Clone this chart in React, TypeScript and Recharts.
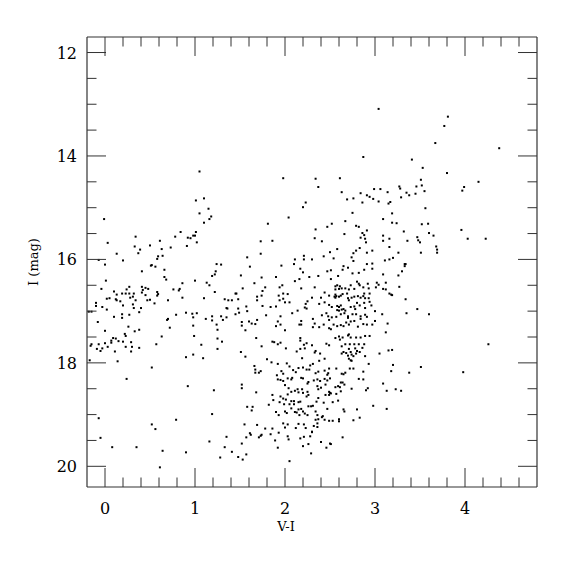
import React from 'react';
import { ScatterChart, Scatter, XAxis, YAxis } from 'recharts';

// ---- data: [V-I, I mag] ----
const brightRedStars: number[][] = [
  [1.05,14.30],[3.04,13.09],[2.87,14.02],[1.98,14.43],[2.34,14.44],[2.61,14.43],[2.37,14.60],[2.99,14.64],[3.06,14.64],
  [3.81,13.24],[3.77,13.42],[3.67,13.75],[4.38,13.85],[3.41,14.07],[3.53,14.23],[3.80,14.33],[3.51,14.46],[4.15,14.50],
  [3.27,14.59],[3.28,14.63],[3.46,14.59],[3.52,14.57],[3.99,14.60],
  [3.97,14.67],[3.14,14.70],[3.35,14.71],[3.38,14.76],[3.45,14.73],[3.55,14.68],[3.29,14.80],[3.17,14.89],[3.56,15.01],
  [3.19,15.11],[3.09,15.22],[3.19,15.29],[3.24,15.30],[3.52,15.32],[3.59,15.31],[3.96,15.43],[3.32,15.46],[3.60,15.49],
  [3.65,15.54],[4.03,15.60],[4.23,15.60],[3.09,15.54],[3.09,15.64],[3.16,15.60],[3.36,15.64],[3.47,15.57],[3.48,15.63],
  [3.50,15.67],[3.68,15.75],[3.69,15.81],[3.69,15.87],[3.16,15.76],[3.26,15.87],[3.51,15.87],[3.20,15.97],[3.16,16.00],
  [3.11,16.02],[3.33,16.09],[3.34,16.09],[3.33,16.13],[3.30,16.23],[3.09,16.29],[3.26,16.31],[3.12,16.45],[3.27,16.53],
  [3.09,16.57],[3.16,16.66],[3.18,16.68],[3.19,16.69],[3.34,16.77],[3.47,16.96],[3.35,17.04],[3.60,17.06],[3.08,17.06],
  [3.14,17.24],[3.12,17.41],
  [4.26,17.64],[3.05,17.82],[3.15,17.76],[3.19,17.75],[3.20,18.04],[3.18,18.16],[3.38,18.19],[3.51,18.08],[3.98,18.18],
  [3.09,18.40],[3.13,18.54],[3.23,18.51],[3.29,18.54],[3.13,18.89],
];

const blueStars: number[][] = [
  [1.01,14.86],[1.10,14.82],[1.15,15.02],[1.05,15.11],[1.18,15.17],[1.16,15.22],[1.10,15.29],[-0.01,15.22],[0.34,15.56],
  [0.03,15.68],[0.33,15.75],[0.39,15.81],[0.13,15.89],[0.37,15.88],[0.20,16.02],[0.50,15.73],[0.61,15.64],[0.63,15.80],
  [0.59,15.94],[0.58,15.99],[0.64,15.93],[0.73,15.77],[0.78,15.56],[0.84,15.47],[0.91,15.74],[0.92,15.58],[0.95,15.59],
  [0.98,15.54],[1.00,15.54],[1.01,15.47],[1.02,15.67],[-0.07,16.01],[0.00,16.10],[0.51,16.12],[0.52,16.11],[0.56,16.14],
  [0.41,16.23],[0.66,16.20],[0.66,16.34],[0.68,16.39],[0.01,16.41],[-0.04,16.57],[0.10,16.62],[0.05,16.75],[0.02,16.76],
  [0.13,16.68],[0.19,16.66],[0.23,16.66],[0.27,16.53],[0.24,16.58],[0.27,16.66],[0.12,16.77],[0.13,16.79],[0.17,16.81],
  [0.20,16.89],[0.19,17.06],[0.19,17.13],[0.31,16.72],[0.28,16.74],[0.32,16.66],[0.34,16.79],[0.31,16.87],[0.32,16.94],
  [0.40,16.94],[0.27,17.07],[0.38,17.02],[0.41,16.53],[0.42,16.59],[0.45,16.55],[0.48,16.57],[0.41,16.64],[0.45,16.69],
  [0.47,16.79],[0.50,16.78],[0.55,16.85],[0.58,16.63],[0.59,16.67],[0.58,16.70],[0.70,16.79],[0.76,16.58],[0.83,16.57],
  [0.82,16.60],[0.86,16.46],[0.86,16.74],[1.00,16.41],[1.10,16.75],[1.13,16.45],[1.16,16.50],[1.22,16.63],[1.19,16.32],
  [1.22,16.29],[1.23,16.23],[1.24,16.09],[1.29,16.10],[1.33,16.77],[1.37,16.79],[1.41,16.79],[1.46,16.66],[1.48,16.77],
  [1.36,16.95],[1.35,16.94],[1.48,16.95],[1.45,17.06],[-0.18,17.01],[-0.15,17.01],[-0.10,16.84],[-0.10,16.90],[-0.08,17.21],
  [-0.03,16.92],[0.02,16.97],[0.10,17.11],[0.00,17.38],[0.09,17.52],[0.12,17.53],[0.22,17.44],[0.23,17.48],[0.26,17.30],
  [0.33,17.39],[0.38,17.36],[0.63,17.49],[0.69,17.17],[0.70,17.15],[0.72,17.32],[0.79,17.07],[0.90,17.03],[0.97,17.05],
  [0.98,17.12],[0.98,17.28],[0.99,17.48],[1.02,17.04],[1.12,17.15],[1.19,17.10],[1.19,17.18],[1.24,17.26],[1.25,17.36],
  [1.29,17.10],[1.31,17.17],[1.35,17.12],[1.25,17.53],
  [1.30,17.59],[1.25,17.73],[1.09,17.91],[1.07,17.65],[0.98,17.84],[0.90,17.89],[0.57,17.64],[0.52,18.09],[-0.16,17.67],
  [-0.15,17.64],[-0.09,17.73],[-0.07,17.64],[-0.05,17.77],[-0.03,17.72],[0.00,17.62],[0.03,17.69],[0.07,17.57],[0.07,17.61],
  [0.11,17.78],[0.15,17.58],[0.20,17.59],[0.23,17.69],[0.29,17.78],[0.29,17.60],[0.30,17.69],[0.38,17.71],[-0.17,17.95],
  [0.14,17.97],[0.24,18.31],[0.92,18.45],[1.21,18.53],[-0.07,19.07],[0.79,19.10],[1.19,18.99],[0.52,19.19],[0.56,19.28],
  [-0.05,19.45],[0.08,19.63],[0.35,19.63],[0.64,19.70],[0.90,19.73],[0.61,20.02],[1.16,19.52],[1.35,19.43],[1.33,19.63],
  [1.41,19.72],[1.28,19.83],[1.48,19.82],
];

const redGiantStars: number[][] = [
  [2.63,14.70],[2.84,14.72],[2.91,14.76],[2.94,14.79],[2.98,14.83],[2.69,14.84],[2.76,14.82],[2.86,14.90],[3.04,14.88],
  [3.15,14.92],[2.23,14.90],[2.20,14.99],[2.75,15.10],[2.04,15.19],[2.67,15.26],[1.81,15.31],[2.52,15.31],[2.47,15.37],
  [2.79,15.35],[2.82,15.37],[2.34,15.42],[2.91,15.44],[2.86,15.49],[2.88,15.53],[2.84,15.58],[2.66,15.51],[2.89,15.60],
  [2.90,15.67],[2.33,15.59],[2.41,15.65],[1.86,15.64],[1.73,15.65],[2.83,15.78],[2.79,15.83],[2.76,15.88],[2.74,15.96],
  [2.76,16.03],[2.91,15.87],[2.97,15.83],[2.58,15.80],[2.50,15.86],[1.73,15.89],[2.21,15.93],[2.21,16.00],[2.11,16.00],
  [2.30,16.00],[2.43,15.94],[2.54,15.98],[1.58,15.96],[2.91,16.09],[2.97,16.08],[2.10,16.09],[1.96,16.12],[2.65,16.13],
  [2.70,16.16],[2.64,16.20],[1.61,16.14],[2.17,16.18],[2.20,16.25],[2.51,16.21],[2.47,16.23],[2.88,16.20],[2.97,16.18],
  [2.75,16.27],[2.82,16.26],[1.51,16.31],[2.37,16.32],[2.59,16.32],[1.74,16.35],[1.90,16.34],[2.27,16.34],[2.16,16.38],
  [2.11,16.42],[2.51,16.38],[2.80,16.43],[2.82,16.47],[2.92,16.47],[3.02,16.45],[1.66,16.46],[1.97,16.50],[1.94,16.54],
  [2.33,16.54],[2.56,16.52],[2.58,16.50],[2.61,16.52],[2.56,16.58],[2.60,16.57],[2.63,16.56],[2.67,16.56],[2.71,16.58],
  [2.73,16.50],[2.77,16.57],[2.83,16.50],[2.87,16.54],[2.93,16.56],[3.01,16.54],[3.04,16.49],[3.12,16.58],[1.78,16.54],
  [1.75,16.61],[1.53,16.56],[2.18,16.56],[1.98,16.66],[2.03,16.67],[1.93,16.70],[1.45,16.66],[1.74,16.70],[2.44,16.64],
  [2.49,16.70],[2.40,16.74],[2.30,16.74],[2.56,16.68],[2.57,16.71],[2.55,16.72],[2.56,16.74],[2.60,16.72],[2.62,16.70],
  [2.64,16.67],[2.69,16.66],[2.70,16.75],[2.71,16.79],[2.74,16.74],[2.77,16.72],[2.81,16.71],[2.84,16.74],[2.87,16.71],
  [2.89,16.75],[2.93,16.75],[2.88,16.66],[2.94,16.66],[1.69,16.72],[1.69,16.79],[1.75,16.90],[1.94,16.79],[1.98,16.76],
  [2.00,16.83],[1.90,16.91],[1.84,16.92],[1.57,16.91],[1.58,17.00],[1.49,17.03],[2.05,16.83],[2.25,16.81],[2.23,16.86],
  [2.24,16.95],[2.22,16.93],[2.38,16.86],[2.44,16.83],[2.49,16.88],[2.52,16.92],[2.58,16.90],[2.60,16.92],[2.62,16.89],
  [2.63,16.97],[2.58,16.98],[2.60,16.99],[2.65,16.96],[2.67,16.99],[2.73,16.92],[2.77,16.91],[2.78,16.96],[2.80,16.84],
  [2.83,16.89],[2.88,16.84],[2.94,16.82],[2.96,16.89],[2.89,16.94],[2.79,17.06],[2.84,17.10],[2.89,17.07],[2.91,17.11],
  [2.75,17.06],[2.70,17.10],[2.66,17.04],[2.62,17.06],[3.00,17.00],[1.95,17.10],[1.92,17.20],[1.90,17.29],[1.79,17.08],
  [2.08,17.04],[2.14,16.99],[2.18,17.19],[2.16,17.26],[2.18,17.26],[2.31,17.15],[2.33,17.24],[2.31,17.31],[2.38,17.31],
  [2.41,17.08],[2.46,17.04],[2.48,17.10],[2.49,17.17],[2.52,17.12],[2.54,17.26],[2.57,17.11],[2.58,17.29],[2.62,17.27],
  [2.65,17.29],[2.68,17.22],[2.70,17.13],[2.71,17.26],[2.73,17.20],[2.77,17.19],[2.81,17.30],[2.84,17.15],[2.87,17.25],
  [2.91,17.26],[2.97,17.26],[3.00,17.19],[1.52,17.21],[1.52,17.28],[1.60,17.20],[1.63,17.24],[1.67,17.25],[1.69,17.17],
  [1.56,17.37],[1.95,17.26],[1.68,17.52],[2.17,17.52],[2.51,17.35],[2.49,17.33],[2.43,17.26],[2.56,17.52],[2.60,17.49],
  [2.64,17.51],[2.70,17.47],[2.71,17.45],[2.73,17.51],[2.79,17.51],[2.84,17.51],[2.89,17.48],[2.94,17.48],
];

const faintStars: number[][] = [
  [2.00,17.37],[1.74,17.68],[1.86,17.59],[1.88,17.60],[1.92,17.64],[1.95,17.61],[2.17,17.57],[2.21,17.65],[2.24,17.62],
  [2.30,17.66],[2.17,17.73],[2.22,17.72],[2.01,17.72],[2.46,17.63],[2.49,17.66],[2.61,17.55],[2.67,17.64],[2.72,17.64],
  [2.77,17.64],[2.82,17.64],[2.88,17.64],[2.86,17.71],[2.78,17.72],[2.71,17.73],[2.63,17.68],[1.51,17.79],[1.56,17.88],
  [2.13,17.78],[2.19,17.91],[2.34,17.77],[2.33,17.80],[2.39,17.82],[2.38,17.96],[2.44,17.92],[2.28,18.05],[2.31,18.02],
  [2.63,17.82],[2.65,17.79],[2.68,17.81],[2.70,17.86],[2.71,17.92],[2.73,17.79],[2.74,17.84],[2.73,17.95],[2.74,17.96],
  [2.76,17.87],[2.79,17.82],[2.80,17.77],[2.83,17.79],[2.89,17.87],[2.93,18.02],[1.80,17.93],[1.85,17.99],[1.92,18.02],
  [2.02,18.01],[1.66,18.06],[1.67,18.13],[1.67,18.19],[1.71,18.19],[1.73,18.16],[1.96,18.16],[1.98,18.21],[2.05,18.07],
  [2.09,18.14],[2.12,18.18],[2.15,18.10],[2.20,18.09],[2.24,18.13],[2.27,18.13],[2.34,18.20],[2.37,18.17],[2.44,18.15],
  [2.49,18.11],[2.57,18.11],[2.63,18.21],[2.65,18.22],[2.67,18.19],[2.72,18.11],[2.76,18.11],[2.87,18.17],[1.52,18.42],
  [1.52,18.49],[1.68,18.57],[1.91,18.24],[1.92,18.32],[1.95,18.33],[1.98,18.35],[2.03,18.30],[2.07,18.32],[2.08,18.29],
  [2.18,18.29],[2.20,18.30],[2.25,18.40],[2.26,18.37],[2.32,18.34],[2.36,18.32],[2.39,18.35],[2.44,18.31],[2.47,18.23],
  [2.48,18.20],[2.50,18.30],[2.45,18.42],[2.47,18.34],[2.62,18.38],[2.64,18.38],[2.66,18.42],[2.82,18.31],[2.87,18.32],
  [2.90,18.53],[2.92,18.49],[2.00,18.43],[2.04,18.49],[2.07,18.56],[2.03,18.61],[2.11,18.54],[2.14,18.51],[2.19,18.51],
  [2.15,18.57],[2.20,18.58],[2.25,18.56],[2.26,18.62],[2.24,18.65],[2.36,18.45],[2.37,18.51],[2.40,18.48],[2.49,18.56],
  [2.50,18.58],[2.49,18.62],[2.51,18.59],[2.56,18.47],[2.59,18.45],[2.61,18.47],[2.62,18.55],[2.57,18.60],[2.74,18.50],
  [1.86,18.62],[1.87,18.72],[1.94,18.76],[1.95,18.65],[1.98,18.69],[2.01,18.71],[1.99,18.80],[2.07,18.74],[2.05,18.80],
  [2.10,18.74],[2.10,18.80],[2.15,18.76],[2.17,18.75],[2.26,18.84],[2.29,18.84],[2.31,18.83],[2.35,18.75],[2.37,18.68],
  [2.45,18.62],[2.43,18.77],[2.47,18.89],[2.53,18.76],[2.59,18.73],[2.65,18.90],[2.66,18.94],[2.80,18.90],[2.98,18.83],
  [2.83,19.06],[2.76,19.11],[1.58,18.85],[1.64,18.85],[1.63,18.92],[1.82,18.81],[1.90,18.95],[1.93,19.01],[2.00,18.94],
  [2.02,18.97],[2.07,18.88],[2.11,18.95],[2.13,18.96],[2.15,18.90],[2.18,18.89],[2.16,19.01],[2.20,18.94],[2.22,18.98],
  [2.25,19.01],[2.34,18.94],[2.36,19.01],[2.37,19.09],[2.42,19.03],[2.41,19.05],[2.44,19.10],[2.34,19.10],[2.49,19.12],
  [2.53,19.12],[2.60,19.09],[2.60,19.13],[1.55,19.19],[1.69,19.20],[1.78,19.27],[1.86,19.27],[1.98,19.17],[2.03,19.19],
  [2.00,19.25],[2.15,19.18],[2.12,19.26],[2.21,19.19],[2.23,19.26],[2.36,19.17],[2.36,19.24],[2.32,19.22],[2.30,19.33],
  [1.61,19.36],[1.62,19.39],[1.57,19.44],[1.71,19.44],[1.73,19.41],[1.74,19.39],[1.84,19.38],[1.93,19.35],[2.03,19.42],
  [2.04,19.48],[2.17,19.46],[2.21,19.43],[2.28,19.42],[2.30,19.34],[2.50,19.56],[2.51,19.57],[2.64,19.44],[1.52,19.56],
  [1.89,19.50],[1.92,19.64],[2.20,19.61],[2.26,19.57],[2.40,19.53],[2.46,19.64],[2.29,19.75],[1.53,19.87],[1.57,19.77],
  [2.05,19.90],
];

// ---- axes ----
const X_DOMAIN: [number, number] = [-0.2, 4.8];
const Y_DOMAIN: [number, number] = [11.7, 20.4];
const xTicks = [0, 0.2, 0.4, 0.6, 0.8, 1, 1.2, 1.4, 1.6, 1.8, 2, 2.2, 2.4, 2.6, 2.8, 3, 3.2, 3.4, 3.6, 3.8, 4, 4.2, 4.4, 4.6];
const xMajor = [0, 1, 2, 3, 4];
const yTicks = [12, 12.5, 13, 13.5, 14, 14.5, 15, 15.5, 16, 16.5, 17, 17.5, 18, 18.5, 19, 19.5, 20];
const yMajor = [12, 14, 16, 18, 20];
const X_TITLE = 'V-I';
const Y_TITLE = 'I (mag)';

const FONT = '"DejaVu Serif", "Liberation Serif", serif';
const INK = '#333';
const MAJOR = 19;
const MINOR = 9.5;

const isMajor = (list: number[], v: number) => list.some((m) => Math.abs(m - v) < 1e-6);

const BottomTick = (p: any) => {
  const { x, y, payload } = p;
  const maj = isMajor(xMajor, payload.value);
  return (
    <g>
      <line x1={x} x2={x} y1={y} y2={y - (maj ? MAJOR : MINOR)} stroke={INK} strokeWidth={1} />
      {maj && (
        <text x={x} y={y + 27} textAnchor="middle" fontSize={16} fontFamily={FONT} fill="#000">
          {payload.value}
        </text>
      )}
    </g>
  );
};
const TopTick = (p: any) => {
  const { x, y, payload } = p;
  const maj = isMajor(xMajor, payload.value);
  return <line x1={x} x2={x} y1={y} y2={y + (maj ? MAJOR : MINOR)} stroke={INK} strokeWidth={1} />;
};
const LeftTick = (p: any) => {
  const { x, y, payload } = p;
  const maj = isMajor(yMajor, payload.value);
  return (
    <g>
      <line x1={x} x2={x + (maj ? MAJOR : MINOR)} y1={y} y2={y} stroke={INK} strokeWidth={1} />
      {maj && (
        <text x={x - 10} y={y + 6} textAnchor="end" fontSize={16} fontFamily={FONT} fill="#000">
          {payload.value}
        </text>
      )}
    </g>
  );
};
const RightTick = (p: any) => {
  const { x, y, payload } = p;
  const maj = isMajor(yMajor, payload.value);
  return <line x1={x} x2={x - (maj ? MAJOR : MINOR)} y1={y} y2={y} stroke={INK} strokeWidth={1} />;
};

const Dot = (p: any) => <rect x={p.cx - 1} y={p.cy - 1} width={2} height={2} fill="#000" />;

const data = [...brightRedStars, ...blueStars, ...redGiantStars, ...faintStars].map(([vi, mag]) => ({ x: vi, y: mag }));

export default function App() {
  return (
    <div style={{ position: 'absolute', left: 0, top: 0, width: 575, height: 575, background: '#fff' }}>
      <ScatterChart width={575} height={575} margin={{ top: 27, right: 28, bottom: 38, left: 27 }}>
        <XAxis
          xAxisId="b"
          type="number"
          dataKey="x"
          domain={X_DOMAIN}
          allowDataOverflow
          ticks={xTicks}
          interval={0}
          tickSize={0}
          tickMargin={0}
          tickLine={false}
          tick={<BottomTick />}
          height={50}
          axisLine={{ stroke: INK, strokeWidth: 1.2 }}
          label={{
            content: (lp: any) => {
              const vb = lp.viewBox;
              return (
                <text x={vb.x + 199} y={vb.y + 44} textAnchor="middle" fontSize={13} fontFamily={FONT} fill="#000">
                  {X_TITLE}
                </text>
              );
            },
          }}
        />
        <XAxis
          xAxisId="t"
          orientation="top"
          type="number"
          dataKey="x"
          domain={X_DOMAIN}
          allowDataOverflow
          ticks={xTicks}
          interval={0}
          tickSize={0}
          tickMargin={0}
          tickLine={false}
          tick={<TopTick />}
          height={10}
          axisLine={{ stroke: INK, strokeWidth: 1.2 }}
        />
        <YAxis
          yAxisId="l"
          type="number"
          dataKey="y"
          domain={Y_DOMAIN}
          reversed
          allowDataOverflow
          ticks={yTicks}
          interval={0}
          tickSize={0}
          tickMargin={0}
          tickLine={false}
          tick={<LeftTick />}
          width={60}
          axisLine={{ stroke: INK, strokeWidth: 1.2 }}
          label={{
            content: (lp: any) => {
              const vb = lp.viewBox;
              const cx = vb.x + 11;
              const cy = vb.y + vb.height / 2;
              return (
                <text x={cx} y={cy} transform={`rotate(-90 ${cx} ${cy})`} textAnchor="middle" fontSize={13} fontFamily={FONT} fill="#000">
                  {Y_TITLE}
                </text>
              );
            },
          }}
        />
        <YAxis
          yAxisId="r"
          orientation="right"
          type="number"
          dataKey="y"
          domain={Y_DOMAIN}
          reversed
          allowDataOverflow
          ticks={yTicks}
          interval={0}
          tickSize={0}
          tickMargin={0}
          tickLine={false}
          tick={<RightTick />}
          width={10}
          axisLine={{ stroke: INK, strokeWidth: 1.2 }}
        />
        <Scatter data={data} xAxisId="b" yAxisId="l" shape={<Dot />} isAnimationActive={false} />
        <Scatter data={data} xAxisId="t" yAxisId="r" shape={() => null} isAnimationActive={false} />
      </ScatterChart>
    </div>
  );
}
